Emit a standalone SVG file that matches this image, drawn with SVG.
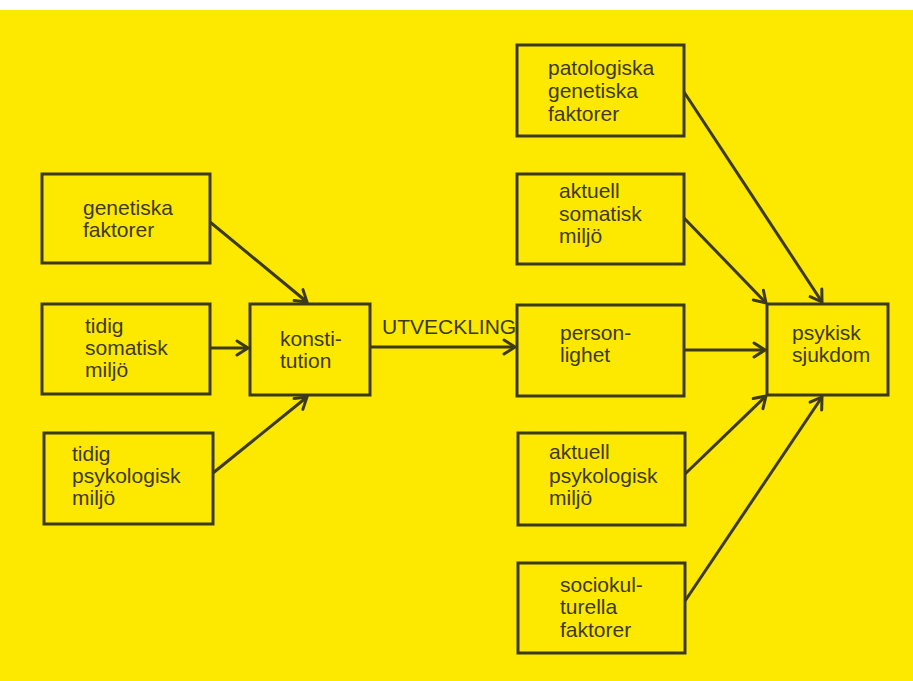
<svg xmlns="http://www.w3.org/2000/svg" width="913" height="681" viewBox="0 0 913 681">
<defs>
<style>
.box{fill:none;stroke:#3d3a1a;stroke-width:3}
.t{font-family:"Liberation Sans",Arial,sans-serif;font-size:21px;fill:#3d3a1a}
.c{fill:none;stroke:#3d3a1a;stroke-width:3;marker-end:url(#ah)}
</style>
<marker id="ah" markerUnits="userSpaceOnUse" markerWidth="18" markerHeight="18" viewBox="0 0 18 18" refX="15" refY="9" orient="auto">
<path d="M4,2 L15,9 L4,16" fill="none" stroke="#3d3a1a" stroke-width="3" stroke-linecap="round" stroke-linejoin="miter"/>
</marker>
</defs>
<rect x="0" y="0" width="913" height="681" fill="#ffffff"/>
<rect x="0" y="10" width="913" height="671" fill="#fde800"/>
<g id="connectors">
<line class="c" x1="210" y1="222" x2="307" y2="302"/>
<line class="c" x1="210" y1="348" x2="248" y2="348"/>
<line class="c" x1="213" y1="473" x2="307" y2="397"/>
<line class="c" x1="370" y1="347" x2="515" y2="347"/>
<line class="c" x1="684" y1="92" x2="822" y2="302"/>
<line class="c" x1="684" y1="218" x2="766" y2="303"/>
<line class="c" x1="684" y1="350" x2="765" y2="350"/>
<line class="c" x1="685" y1="474" x2="766" y2="396"/>
<line class="c" x1="685" y1="601" x2="822" y2="397"/>
</g>
<text class="t" x="382" y="334" font-size="20">UTVECKLING</text>
<g id="genetiska">
<rect class="box" x="42" y="174" width="168" height="89"/>
<text class="t" x="83" y="215">genetiska</text>
<text class="t" x="83" y="237">faktorer</text>
</g>
<g id="tidig-somatisk">
<rect class="box" x="42" y="304" width="168" height="90"/>
<text class="t" x="85" y="333">tidig</text>
<text class="t" x="85" y="355">somatisk</text>
<text class="t" x="85" y="377">miljö</text>
</g>
<g id="tidig-psykologisk">
<rect class="box" x="44" y="433" width="169" height="91"/>
<text class="t" x="72" y="461">tidig</text>
<text class="t" x="72" y="483">psykologisk</text>
<text class="t" x="72" y="505">miljö</text>
</g>
<g id="konstitution">
<rect class="box" x="250" y="304" width="120" height="91"/>
<text class="t" x="280" y="346">konsti-</text>
<text class="t" x="280" y="368">tution</text>
</g>
<g id="patologiska">
<rect class="box" x="517" y="45" width="167" height="91"/>
<text class="t" x="548" y="75">patologiska</text>
<text class="t" x="548" y="98">genetiska</text>
<text class="t" x="548" y="121">faktorer</text>
</g>
<g id="aktuell-somatisk">
<rect class="box" x="517" y="174" width="167" height="90"/>
<text class="t" x="559" y="198">aktuell</text>
<text class="t" x="559" y="221">somatisk</text>
<text class="t" x="559" y="243">miljö</text>
</g>
<g id="personlighet">
<rect class="box" x="517" y="305" width="167" height="91"/>
<text class="t" x="560" y="340">person-</text>
<text class="t" x="560" y="362">lighet</text>
</g>
<g id="aktuell-psykologisk">
<rect class="box" x="518" y="433" width="167" height="92"/>
<text class="t" x="549" y="459">aktuell</text>
<text class="t" x="549" y="483">psykologisk</text>
<text class="t" x="549" y="505">miljö</text>
</g>
<g id="sociokulturella">
<rect class="box" x="518" y="563" width="167" height="90"/>
<text class="t" x="560" y="592">sociokul-</text>
<text class="t" x="560" y="614">turella</text>
<text class="t" x="560" y="637">faktorer</text>
</g>
<g id="psykisk-sjukdom">
<rect class="box" x="767" y="304" width="121" height="91"/>
<text class="t" x="792" y="340">psykisk</text>
<text class="t" x="792" y="362">sjukdom</text>
</g>
</svg>
